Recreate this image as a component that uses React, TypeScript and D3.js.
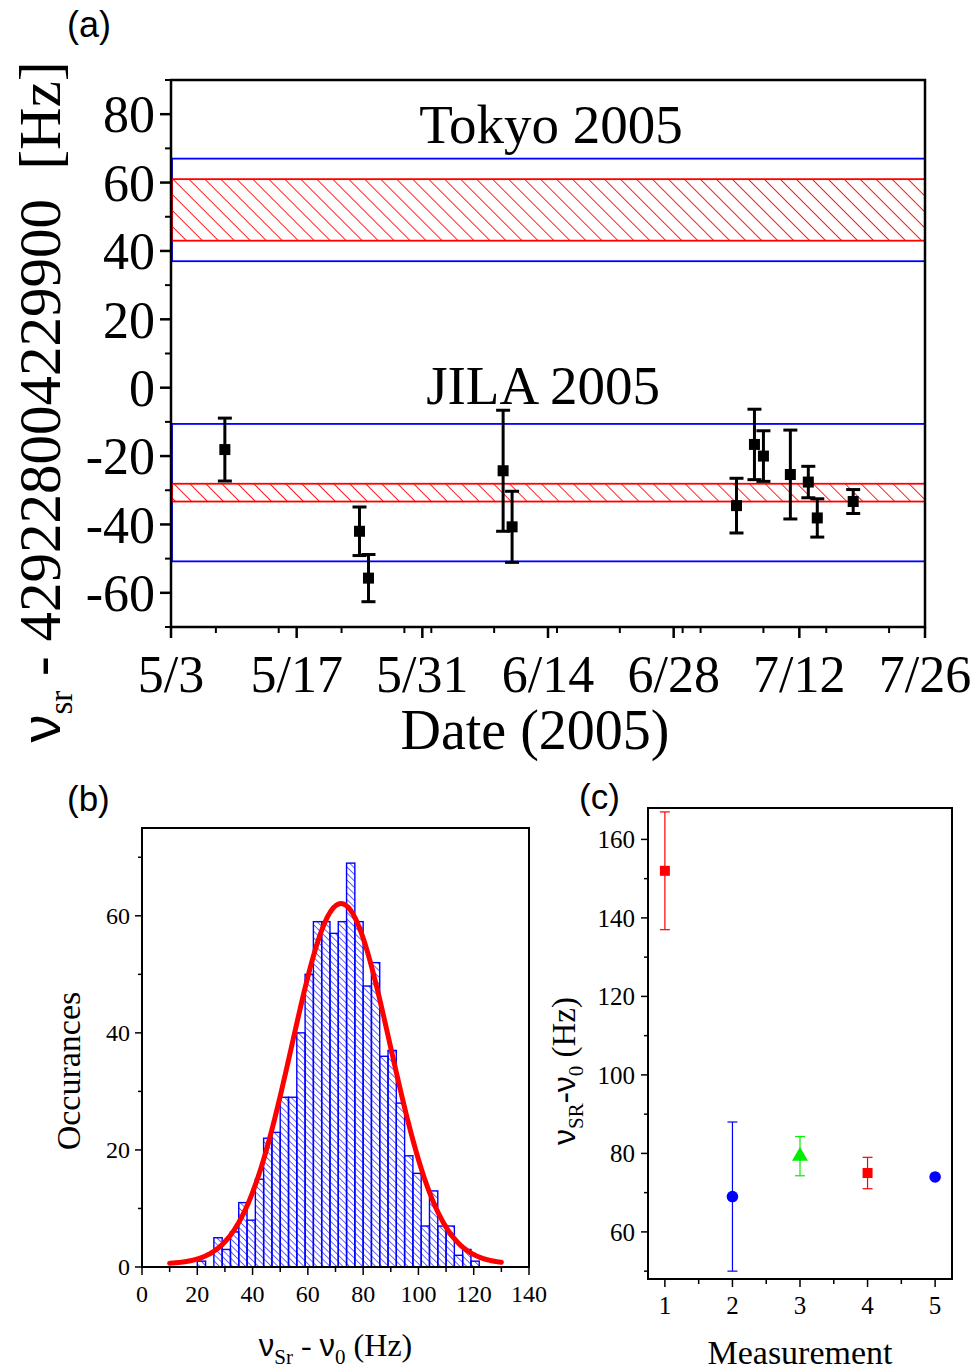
import React from "react";
import * as d3 from "d3";

// ---------- (a) JILA Sr clock frequency vs date ----------
const jilaDates = [
  "2005-05-09", "2005-05-24", "2005-05-25", "2005-06-09", "2005-06-10", "2005-07-05",
  "2005-07-07", "2005-07-08", "2005-07-11", "2005-07-13", "2005-07-14", "2005-07-18",
];
const jilaValues = [-18.1, -42.0, -55.7, -24.3, -40.7, -34.5, -16.6, -20.0, -25.4, -27.6, -38.1, -33.3];
const jilaErrors = [9.2, 7.1, 6.9, 17.7, 10.4, 8.0, 10.3, 7.4, 13.0, 4.6, 5.6, 3.5];

const dateTickValues = ["2005-05-03", "2005-05-17", "2005-05-31", "2005-06-14", "2005-06-28", "2005-07-12", "2005-07-26"];
const dateTickLabels = ["5/3", "5/17", "5/31", "6/14", "6/28", "7/12", "7/26"];
const freqTicks = [-60, -40, -20, 0, 20, 40, 60, 80];
const freqTickLabels = ["-60", "-40", "-20", "0", "20", "40", "60", "80"];

// Reported results: centre, statistical and total uncertainty
const bandNames = ["Tokyo 2005", "JILA 2005"];
const bandCenters = [52, -30.7];
const bandStatErr = [9, 2.6];
const bandTotalErr = [15, 20.1];

// ---------- (b) histogram ----------
const binStart = 20;
const binWidth = 3;
const binCounts = [1, 0, 5, 3, 6, 11, 8, 15, 22, 23, 29, 29, 40, 50, 59, 59, 57, 59, 69, 59, 48, 52, 36, 37, 28, 19, 16, 7, 13, 7, 7, 2, 3, 1];
const histXTicks = [0, 20, 40, 60, 80, 100, 120, 140];
const histYTicks = [0, 20, 40, 60];
// Gaussian fit
const fitCenter = 72;
const fitSigma = 17.8;
const fitAmplitude = 61.6;
const fitOffset = 0.5;
const fitRange = [10, 130];

// ---------- (c) measurements ----------
const measIndex = [1, 2, 3, 4, 5];
const measValues = [152, 69, 79.3, 75, 74];
const measErrors = [15, 19, 5, 4, 0];
const measColors = ["#ff0000", "#0000ff", "#00ee00", "#ff0000", "#0000ff"];
const measShapes = ["square", "circle", "triangle", "square", "circle"];
const measYTicks = [60, 80, 100, 120, 140, 160];

const SERIF = "'Liberation Serif', 'Times New Roman', serif";
const SANS = "'Liberation Sans', Arial, sans-serif";

const parseDate = d3.utcParse("%Y-%m-%d");

function PanelA() {
  const x = d3.scaleUtc().domain([parseDate("2005-05-03")!, parseDate("2005-07-26")!]).range([171, 925]);
  const y = d3.scaleLinear().domain([-70, 90]).range([627, 80]);
  const [x0, x1] = x.range();
  const [yb, yt] = y.range();
  const minorY = d3.range(-70, 91, 10).filter((v) => !freqTicks.includes(v));
  const minorX = d3.utcDay.every(7)!.range(x.domain()[0], d3.utcDay.offset(x.domain()[1], 1));
  const fs = 52;
  return (
    <g>
      <defs>
        <pattern id="hatchRed" patternUnits="userSpaceOnUse" width={11.3} height={10} patternTransform="rotate(-45 171 0)">
          <line x1={0} y1={-1} x2={0} y2={11} stroke="#ff0000" strokeWidth={1.7} />
        </pattern>
      </defs>
      {/* bands */}
      {bandNames.map((name, i) => (
        <g key={name}>
          <rect
            x={x0 + 1}
            y={y(bandCenters[i] + bandTotalErr[i])}
            width={x1 - x0 - 1}
            height={y(bandCenters[i] - bandTotalErr[i]) - y(bandCenters[i] + bandTotalErr[i])}
            fill="none"
            stroke="#0000ff"
            strokeWidth={1.8}
          />
          <rect
            x={x0 + 1}
            y={y(bandCenters[i] + bandStatErr[i])}
            width={x1 - x0 - 1}
            height={y(bandCenters[i] - bandStatErr[i]) - y(bandCenters[i] + bandStatErr[i])}
            fill="url(#hatchRed)"
            stroke="#ff0000"
            strokeWidth={1.8}
          />
          <text
            x={(x0 + x1) / 2}
            y={y(bandCenters[i] + bandTotalErr[i]) - (i === 0 ? 16 : 20)}
            textAnchor="middle"
            fontFamily={SERIF}
            fontSize={55}
            dx={i === 0 ? 3 : -5}
          >
            {name}
          </text>
        </g>
      ))}
      {/* data */}
      {jilaDates.map((d, i) => {
        const cx = x(parseDate(d)!);
        const cy = y(jilaValues[i]);
        const top = y(jilaValues[i] + jilaErrors[i]);
        const bot = y(jilaValues[i] - jilaErrors[i]);
        return (
          <g key={d}>
            <line x1={cx} x2={cx} y1={top} y2={bot} stroke="#000" strokeWidth={3} />
            <line x1={cx - 7} x2={cx + 7} y1={top} y2={top} stroke="#000" strokeWidth={3} />
            <line x1={cx - 7} x2={cx + 7} y1={bot} y2={bot} stroke="#000" strokeWidth={3} />
            <rect x={cx - 5.5} y={cy - 5.5} width={11} height={11} fill="#000" />
          </g>
        );
      })}
      {/* frame */}
      <rect x={x0} y={yt} width={x1 - x0} height={yb - yt} fill="none" stroke="#000" strokeWidth={2.5} />
      {/* y ticks */}
      {freqTicks.map((v, i) => (
        <g key={v}>
          <line x1={x0 - 11} x2={x0} y1={y(v)} y2={y(v)} stroke="#000" strokeWidth={2.5} />
          <text x={x0 - 16} y={y(v)} dy="0.35em" textAnchor="end" fontFamily={SERIF} fontSize={fs}>
            {freqTickLabels[i]}
          </text>
        </g>
      ))}
      {minorY.map((v) => (
        <line key={v} x1={x0 - 6} x2={x0} y1={y(v)} y2={y(v)} stroke="#000" strokeWidth={2} />
      ))}
      {/* x ticks */}
      {minorX.map((d) => (
        <line key={+d} x1={x(d)} x2={x(d)} y1={yb} y2={yb + 6} stroke="#000" strokeWidth={2} />
      ))}
      {dateTickValues.map((d, i) => (
        <g key={d}>
          <line x1={x(parseDate(d)!)} x2={x(parseDate(d)!)} y1={yb} y2={yb + 11} stroke="#000" strokeWidth={2.5} />
          <text x={x(parseDate(d)!)} y={692} textAnchor="middle" fontFamily={SERIF} fontSize={fs}>
            {dateTickLabels[i]}
          </text>
        </g>
      ))}
      <text x={535} y={749} textAnchor="middle" fontFamily={SERIF} fontSize={56}>
        Date (2005)
      </text>
      <text transform="translate(60,402) rotate(-90)" textAnchor="middle" fontFamily={SERIF} fontSize={59}>
        <tspan fontFamily={SANS} fontSize={56}>ν</tspan>
        <tspan fontSize={33} dy={12}>sr</tspan>
        <tspan dy={-12}>{" - 429228004229900\u00a0\u00a0[Hz]"}</tspan>
      </text>
      <text x={67} y={37} fontFamily={SANS} fontSize={36}>(a)</text>
    </g>
  );
}

function PanelB() {
  const x = d3.scaleLinear().domain([0, 140]).range([142, 529]);
  const y = d3.scaleLinear().domain([0, 75]).range([1267, 828]);
  const [x0, x1] = x.range();
  const [yb, yt] = y.range();
  const bins = binCounts.map((c, i) => ({ lo: binStart + i * binWidth, hi: binStart + (i + 1) * binWidth, c }));
  const fitX = d3.range(fitRange[0], fitRange[1] + 0.001, 0.5);
  const fitLine = d3
    .line<number>()
    .x((v) => x(v))
    .y((v) => y(fitOffset + fitAmplitude * Math.exp(-((v - fitCenter) ** 2) / (2 * fitSigma * fitSigma))))
    .curve(d3.curveBasis);
  const minorX = d3.range(10, 140, 20);
  const minorY = [10, 30, 50, 70];
  return (
    <g>
      <defs>
        <pattern id="hatchBlue" patternUnits="userSpaceOnUse" width={4.6} height={10} patternTransform="rotate(-45 142 0)">
          <line x1={0} y1={-1} x2={0} y2={11} stroke="#0000ff" strokeWidth={1.2} />
        </pattern>
      </defs>
      {bins
        .filter((b) => b.c > 0)
        .map((b) => (
          <rect
            key={b.lo}
            x={x(b.lo)}
            y={y(b.c)}
            width={x(b.hi) - x(b.lo)}
            height={yb - y(b.c)}
            fill="url(#hatchBlue)"
            stroke="#0000ff"
            strokeWidth={1.4}
          />
        ))}
      <path d={fitLine(fitX) ?? ""} fill="none" stroke="#ff0000" strokeWidth={5} strokeLinecap="round" />
      <rect x={x0} y={yt} width={x1 - x0} height={yb - yt} fill="none" stroke="#000" strokeWidth={2} />
      {histYTicks.map((v) => (
        <g key={v}>
          <line x1={x0 - 7} x2={x0} y1={y(v)} y2={y(v)} stroke="#000" strokeWidth={1.5} />
          <text x={x0 - 12} y={y(v)} dy="0.35em" textAnchor="end" fontFamily={SERIF} fontSize={24}>
            {v}
          </text>
        </g>
      ))}
      {minorY.map((v) => (
        <line key={v} x1={x0 - 4} x2={x0} y1={y(v)} y2={y(v)} stroke="#000" strokeWidth={1.5} />
      ))}
      {histXTicks.map((v) => (
        <g key={v}>
          <line x1={x(v)} x2={x(v)} y1={yb} y2={yb + 8} stroke="#000" strokeWidth={1.5} />
          <text x={x(v)} y={1302} textAnchor="middle" fontFamily={SERIF} fontSize={24}>
            {v}
          </text>
        </g>
      ))}
      {minorX.map((v) => (
        <line key={v} x1={x(v)} x2={x(v)} y1={yb} y2={yb + 5} stroke="#000" strokeWidth={1.5} />
      ))}
      <text x={(x0 + x1) / 2} y={1356} textAnchor="middle" fontFamily={SERIF} fontSize={32}>
        <tspan fontFamily={SANS} fontSize={31}>ν</tspan>
        <tspan fontSize={21} dy={8}>Sr</tspan>
        <tspan dy={-8}>{" - "}</tspan>
        <tspan fontFamily={SANS} fontSize={31}>ν</tspan>
        <tspan fontSize={21} dy={8}>0</tspan>
        <tspan dy={-8}>{" (Hz)"}</tspan>
      </text>
      <text transform="translate(80,1071) rotate(-90)" textAnchor="middle" fontFamily={SERIF} fontSize={34}>
        Occurances
      </text>
      <text x={67} y={811} fontFamily={SANS} fontSize={35}>(b)</text>
    </g>
  );
}

function PanelC() {
  const x = d3.scaleLinear().domain([0.75, 5.25]).range([648, 952]);
  const y = d3.scaleLinear().domain([48, 168]).range([1279, 808]);
  const [x0, x1] = x.range();
  const [yb, yt] = y.range();
  const minorY = d3.range(50, 168, 20);
  const minorX = [1.5, 2.5, 3.5, 4.5];
  const tri = d3.symbol().type(d3.symbolTriangle).size(110);
  return (
    <g>
      {measIndex.map((m, i) => {
        const cx = x(m);
        const cy = y(measValues[i]);
        const col = measColors[i];
        const err = measErrors[i];
        return (
          <g key={m}>
            {err > 0 && (
              <g stroke={col} strokeWidth={1.2}>
                <line x1={cx} x2={cx} y1={y(measValues[i] + err)} y2={y(measValues[i] - err)} />
                <line x1={cx - 5} x2={cx + 5} y1={y(measValues[i] + err)} y2={y(measValues[i] + err)} />
                <line x1={cx - 5} x2={cx + 5} y1={y(measValues[i] - err)} y2={y(measValues[i] - err)} />
              </g>
            )}
            {measShapes[i] === "square" && <rect x={cx - 5} y={cy - 5} width={10} height={10} fill={col} />}
            {measShapes[i] === "circle" && <circle cx={cx} cy={cy} r={5.8} fill={col} />}
            {measShapes[i] === "triangle" && <path d={tri() ?? ""} transform={`translate(${cx},${cy})`} fill={col} />}
          </g>
        );
      })}
      <rect x={x0} y={yt} width={x1 - x0} height={yb - yt} fill="none" stroke="#000" strokeWidth={2} />
      {measYTicks.map((v) => (
        <g key={v}>
          <line x1={x0 - 7} x2={x0} y1={y(v)} y2={y(v)} stroke="#000" strokeWidth={1.5} />
          <text x={x0 - 13} y={y(v)} dy="0.35em" textAnchor="end" fontFamily={SERIF} fontSize={25}>
            {v}
          </text>
        </g>
      ))}
      {minorY.map((v) => (
        <line key={v} x1={x0 - 4} x2={x0} y1={y(v)} y2={y(v)} stroke="#000" strokeWidth={1.5} />
      ))}
      {measIndex.map((v) => (
        <g key={v}>
          <line x1={x(v)} x2={x(v)} y1={yb} y2={yb + 8} stroke="#000" strokeWidth={1.5} />
          <text x={x(v)} y={1314} textAnchor="middle" fontFamily={SERIF} fontSize={25}>
            {v}
          </text>
        </g>
      ))}
      {minorX.map((v) => (
        <line key={v} x1={x(v)} x2={x(v)} y1={yb} y2={yb + 5} stroke="#000" strokeWidth={1.5} />
      ))}
      <text x={(x0 + x1) / 2} y={1364} textAnchor="middle" fontFamily={SERIF} fontSize={34}>
        Measurement
      </text>
      <text transform="translate(575,1071) rotate(-90)" textAnchor="middle" fontFamily={SERIF} fontSize={33}>
        <tspan fontFamily={SANS} fontSize={32}>ν</tspan>
        <tspan fontSize={21} dy={8}>SR</tspan>
        <tspan dy={-8}>-</tspan>
        <tspan fontFamily={SANS} fontSize={32}>ν</tspan>
        <tspan fontSize={21} dy={8}>0</tspan>
        <tspan dy={-8}>{" (Hz)"}</tspan>
      </text>
      <text x={579} y={809} fontFamily={SANS} fontSize={35}>(c)</text>
    </g>
  );
}

export default function App() {
  return (
    <div style={{ position: "absolute", left: 0, top: 0 }}>
      <svg width={980} height={1372} viewBox="0 0 980 1372" style={{ display: "block", background: "#fff" }}>
        <rect width={980} height={1372} fill="#fff" />
        <PanelA />
        <PanelB />
        <PanelC />
      </svg>
    </div>
  );
}
